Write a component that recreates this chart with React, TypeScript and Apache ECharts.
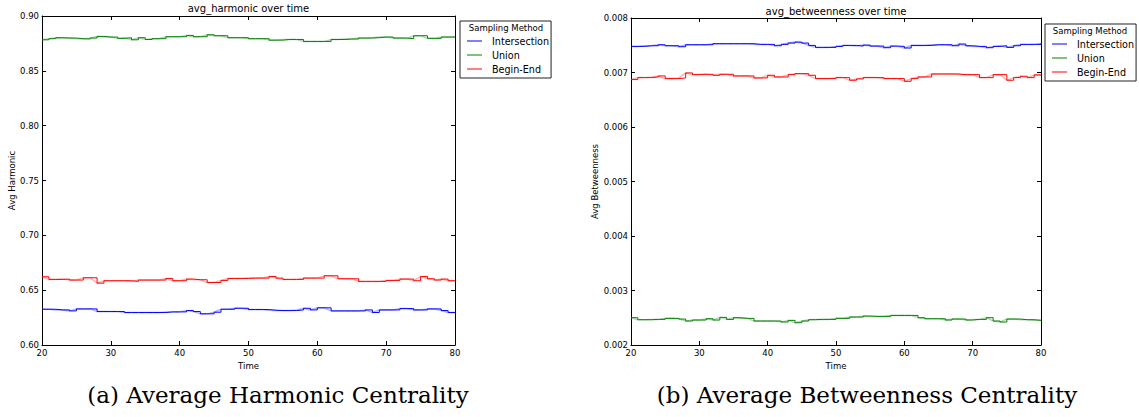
import React, { useEffect, useRef } from "react";
import * as echarts from "echarts";

const TIME = [20, 21, 22, 23, 24, 25, 26, 27, 28, 29, 30, 31, 32, 33, 34, 35, 36, 37, 38, 39, 40, 41, 42, 43, 44, 45, 46, 47, 48, 49, 50, 51, 52, 53, 54, 55, 56, 57, 58, 59, 60, 61, 62, 63, 64, 65, 66, 67, 68, 69, 70, 71, 72, 73, 74, 75, 76, 77, 78, 79, 80];

const METHODS = ["Intersection", "Union", "Begin-End"];

const HARM_INTERSECTION = [0.6326, 0.6326, 0.632, 0.632, 0.6311, 0.6329, 0.6329, 0.6329, 0.6305, 0.6305, 0.6305, 0.6305, 0.6296, 0.6296, 0.6296, 0.6296, 0.6296, 0.6296, 0.6302, 0.6302, 0.6302, 0.6314, 0.6305, 0.6284, 0.6284, 0.6299, 0.6326, 0.6326, 0.6335, 0.6335, 0.6323, 0.6323, 0.6323, 0.6317, 0.6314, 0.6314, 0.6314, 0.632, 0.6335, 0.632, 0.6339, 0.6339, 0.6311, 0.6311, 0.6311, 0.6311, 0.6311, 0.632, 0.6296, 0.632, 0.632, 0.632, 0.6332, 0.6332, 0.632, 0.632, 0.6329, 0.6329, 0.6314, 0.6296, 0.6296];
const HARM_UNION = [0.8783, 0.8793, 0.8802, 0.8799, 0.8799, 0.8793, 0.879, 0.8799, 0.8814, 0.8808, 0.8808, 0.8796, 0.8802, 0.8783, 0.8802, 0.8786, 0.8793, 0.8793, 0.8811, 0.8811, 0.8811, 0.8823, 0.8811, 0.8811, 0.8829, 0.882, 0.882, 0.8802, 0.8802, 0.8802, 0.8793, 0.8793, 0.8793, 0.878, 0.878, 0.8786, 0.8786, 0.8786, 0.8768, 0.8768, 0.8768, 0.8768, 0.8786, 0.8786, 0.879, 0.879, 0.8799, 0.8799, 0.8802, 0.8808, 0.8808, 0.8799, 0.8799, 0.8793, 0.882, 0.882, 0.8796, 0.8796, 0.8808, 0.8808, 0.8808];
const HARM_BEGINEND = [0.6622, 0.6598, 0.6598, 0.6601, 0.6592, 0.6592, 0.6613, 0.6613, 0.6564, 0.6586, 0.6586, 0.6586, 0.6586, 0.658, 0.6592, 0.6592, 0.6592, 0.6592, 0.6607, 0.6586, 0.6586, 0.6601, 0.6595, 0.6595, 0.657, 0.657, 0.6589, 0.6607, 0.6607, 0.6607, 0.661, 0.661, 0.661, 0.6625, 0.661, 0.6598, 0.6598, 0.6598, 0.661, 0.661, 0.661, 0.6631, 0.6631, 0.6604, 0.6604, 0.6604, 0.658, 0.658, 0.658, 0.658, 0.6589, 0.6589, 0.6601, 0.6601, 0.6586, 0.6625, 0.6604, 0.6592, 0.6601, 0.6586, 0.6586];

const BTW_INTERSECTION = [0.007479, 0.007479, 0.007491, 0.007491, 0.007509, 0.007491, 0.007491, 0.007473, 0.007509, 0.007509, 0.007509, 0.007509, 0.007528, 0.007528, 0.007528, 0.007528, 0.007528, 0.007528, 0.007516, 0.007516, 0.007516, 0.007491, 0.007516, 0.00754, 0.007558, 0.00754, 0.007497, 0.007461, 0.007461, 0.007461, 0.007479, 0.007497, 0.007497, 0.007485, 0.007503, 0.007485, 0.007485, 0.007455, 0.007485, 0.007479, 0.007449, 0.007497, 0.007497, 0.007497, 0.007509, 0.007509, 0.007509, 0.007491, 0.007522, 0.007491, 0.007479, 0.007479, 0.007455, 0.007479, 0.007491, 0.007461, 0.007491, 0.007516, 0.007516, 0.007516, 0.007534];
const BTW_UNION = [0.002501, 0.002464, 0.002464, 0.00247, 0.00247, 0.002489, 0.002489, 0.002476, 0.00244, 0.002458, 0.002458, 0.002482, 0.002458, 0.002507, 0.00247, 0.002501, 0.002489, 0.002489, 0.00244, 0.00244, 0.00244, 0.00244, 0.002422, 0.002452, 0.002409, 0.00244, 0.002464, 0.00247, 0.00247, 0.00247, 0.002489, 0.002489, 0.002513, 0.002513, 0.002531, 0.002525, 0.002525, 0.002525, 0.002543, 0.002543, 0.002543, 0.002543, 0.002501, 0.002482, 0.002482, 0.002482, 0.002458, 0.002476, 0.002476, 0.002458, 0.00247, 0.00247, 0.002501, 0.00244, 0.002422, 0.002476, 0.002476, 0.002464, 0.002464, 0.002452, 0.002452];
const BTW_BEGINEND = [0.00687, 0.006906, 0.006906, 0.006918, 0.006937, 0.006888, 0.006888, 0.0069, 0.006992, 0.006961, 0.006967, 0.006967, 0.006949, 0.006967, 0.006967, 0.006937, 0.006937, 0.006937, 0.0069, 0.0069, 0.006949, 0.006918, 0.006918, 0.006961, 0.006979, 0.006979, 0.006949, 0.006888, 0.006888, 0.006888, 0.006906, 0.006906, 0.006858, 0.006882, 0.006906, 0.006906, 0.006906, 0.006888, 0.006888, 0.006888, 0.006839, 0.006888, 0.006918, 0.006918, 0.006973, 0.006973, 0.006973, 0.006973, 0.006961, 0.006961, 0.006961, 0.006906, 0.006906, 0.006961, 0.006961, 0.006858, 0.006906, 0.006931, 0.006906, 0.006955, 0.006955];

const COLORS = ["#0000ff", "#008000", "#ff0000"];
const PALE = ["#8080ff", "#80c080", "#ff8080"];
const SANS = "DejaVu Sans";
const SERIF = "DejaVu Serif";

function pairs(vals: number[]) {
  return TIME.map((t, i) => [t, vals[i]]);
}

function makeSeries(name: string, vals: number[], idx: number, axisIdx: number) {
  const d = pairs(vals);
  return [
    {
      type: "line",
      name,
      data: d,
      xAxisIndex: axisIdx,
      yAxisIndex: axisIdx,
      showSymbol: false,
      symbol: "none",
      lineStyle: { color: COLORS[idx], width: 1.5, opacity: 0.3 },
      itemStyle: { color: PALE[idx] },
      z: 2,
    },
    {
      type: "line",
      name,
      data: d,
      step: "end",
      xAxisIndex: axisIdx,
      yAxisIndex: axisIdx,
      showSymbol: false,
      symbol: "none",
      lineStyle: { color: COLORS[idx], width: 1 },
      itemStyle: { color: PALE[idx] },
      z: 3,
    },
  ];
}

function xAxes(gridIndex: number) {
  return [
    {
      type: "value",
      gridIndex,
      min: 20,
      max: 80,
      interval: 10,
      position: "bottom",
      name: "Time",
      nameLocation: "middle",
      nameGap: 14,
      nameTextStyle: { fontSize: 8.5, color: "#000", fontFamily: SANS },
      axisLine: { show: true, onZero: false, lineStyle: { color: "#000", width: 1 } },
      axisTick: { show: true, inside: true, length: 4, lineStyle: { color: "#000" } },
      axisLabel: { fontSize: 8.5, color: "#000", fontFamily: SANS, margin: 3 },
      splitLine: { show: false },
    },
    {
      type: "value",
      gridIndex,
      min: 20,
      max: 80,
      interval: 10,
      position: "top",
      axisLine: { show: true, onZero: false, lineStyle: { color: "#000", width: 1 } },
      axisTick: { show: true, inside: true, length: 4, lineStyle: { color: "#000" } },
      axisLabel: { show: false },
      splitLine: { show: false },
    },
  ];
}

function yAxes(gridIndex: number, min: number, max: number, interval: number, digits: number, name: string, gap: number) {
  return [
    {
      type: "value",
      gridIndex,
      min,
      max,
      interval,
      position: "left",
      name,
      nameLocation: "middle",
      nameRotate: 90,
      nameGap: gap,
      nameTextStyle: { fontSize: 8.5, color: "#000", fontFamily: SANS },
      axisLine: { show: true, onZero: false, lineStyle: { color: "#000", width: 1 } },
      axisTick: { show: true, inside: true, length: 4, lineStyle: { color: "#000" } },
      axisLabel: {
        fontSize: 8.5,
        color: "#000",
        fontFamily: SANS,
        margin: 3,
        formatter: (v: number) => v.toFixed(digits),
      },
      splitLine: { show: false },
    },
    {
      type: "value",
      gridIndex,
      min,
      max,
      interval,
      position: "right",
      axisLine: { show: true, onZero: false, lineStyle: { color: "#000", width: 1 } },
      axisTick: { show: true, inside: true, length: 4, lineStyle: { color: "#000" } },
      axisLabel: { show: false },
      splitLine: { show: false },
    },
  ];
}

function legendAt(left: number, top: number) {
  return {
    orient: "vertical",
    left,
    top,
    data: METHODS.map((n, i) => ({ name: n, icon: "rect", itemStyle: { color: PALE[i] } })),
    itemWidth: 15,
    itemHeight: 2,
    itemGap: 0,
    padding: [13, 2, 2, 7],
    borderColor: "#222",
    borderWidth: 1,
    borderRadius: 0,
    backgroundColor: "#fff",
    selectedMode: false,
    textStyle: { fontSize: 9.6, lineHeight: 14, color: "#000", fontFamily: SANS, padding: [0, 0, 0, 5] },
  };
}

function txt(text: string, x: number, y: number, fontSize: number, fontFamily: string) {
  return {
    type: "text",
    x,
    y,
    z: 100,
    zlevel: 1,
    style: {
      text,
      fontSize,
      fontFamily,
      fill: "#000",
      textAlign: "center",
      textVerticalAlign: "middle",
      align: "center",
      verticalAlign: "middle",
    },
  };
}

export default function App() {
  const ref = useRef<HTMLDivElement>(null);
  useEffect(() => {
    if (!ref.current) return;
    const chart = echarts.init(ref.current, undefined, { renderer: "svg" });
    const harm = [HARM_INTERSECTION, HARM_UNION, HARM_BEGINEND];
    const btw = [BTW_INTERSECTION, BTW_UNION, BTW_BEGINEND];
    const series: any[] = [];
    METHODS.forEach((m, i) => series.push(...makeSeries(m, harm[i], i, 0)));
    METHODS.forEach((m, i) => series.push(...makeSeries(m, btw[i], i, 2)));
    chart.setOption({
      animation: false,
      backgroundColor: "#fff",
      grid: [
        { left: 42, top: 16, width: 413, height: 329, containLabel: false },
        { left: 631, top: 18, width: 410, height: 327, containLabel: false },
      ],
      xAxis: [...xAxes(0), ...xAxes(1)],
      yAxis: [
        ...yAxes(0, 0.6, 0.9, 0.05, 2, "Avg Harmonic", 24),
        ...yAxes(1, 0.002, 0.008, 0.001, 3, "Avg Betweenness", 29),
      ],
      legend: [legendAt(460, 21), legendAt(1045, 24)],
      graphic: [
        txt("avg_harmonic over time", 248.5, 8.5, 10, SANS),
        txt("avg_betweenness over time", 836, 11, 10, SANS),
        txt("Sampling Method", 506, 28, 8.5, SANS),
        txt("Sampling Method", 1090, 31, 8.5, SANS),
        txt("(a) Average Harmonic Centrality", 278, 395, 23, SERIF),
        txt("(b) Average Betweenness Centrality", 867, 395, 23, SERIF),
      ],
      series,
    });
    return () => chart.dispose();
  }, []);
  return (
    <div
      ref={ref}
      style={{ position: "absolute", left: 0, top: 0, width: 1139, height: 417, background: "#fff" }}
    />
  );
}
